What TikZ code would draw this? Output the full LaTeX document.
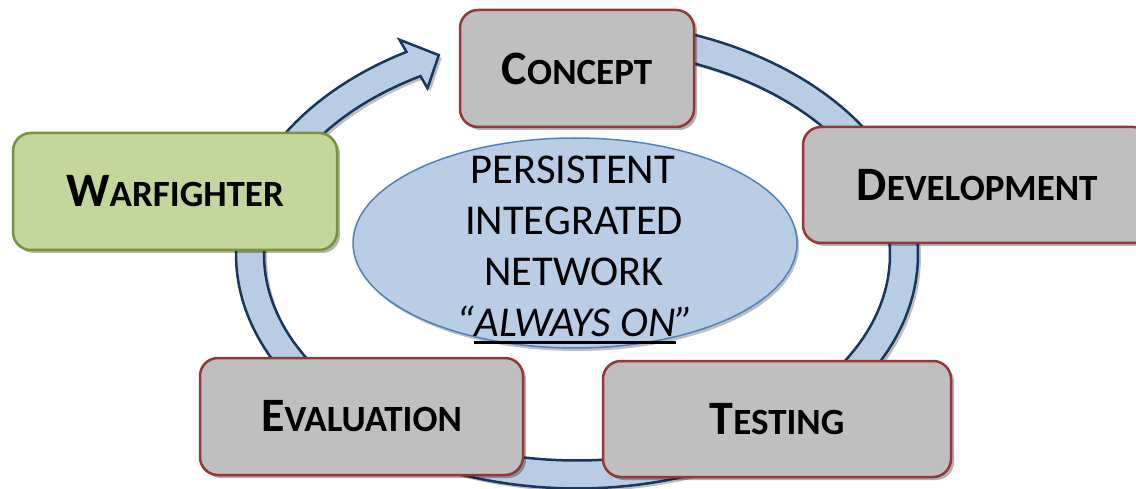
\documentclass[tikz,border=0pt]{standalone}
\usepackage{fontspec}
\setmainfont{Carlito}
\usetikzlibrary{shadows,shapes.geometric}
\definecolor{boxgray}{HTML}{BFBFBF}
\definecolor{boxred}{HTML}{953735}
\definecolor{wgreen}{HTML}{C3D69B}
\definecolor{wgreenline}{HTML}{77933C}
\definecolor{ringfill}{HTML}{B8CCE4}
\definecolor{ringline}{HTML}{17375E}
\definecolor{ellfill}{HTML}{B9CDE5}
\definecolor{ellline}{HTML}{4F81BD}
\newcommand\capword[2]{{\fontsize{48}{48}\selectfont #1}{\fontsize{37}{37}\selectfont #2}}
\newcommand\myul[1]{\setbox0\hbox{#1}\rlap{\rule[-7pt]{\wd0}{3pt}}\box0}
\begin{document}
\begin{tikzpicture}[x=1pt,y=-1pt,
  softshadow/.style={drop shadow={shadow xshift=3pt,shadow yshift=-3pt,opacity=0.3,fill=black}},
  stagebox/.style={draw=boxred,fill=boxgray,line width=2.5pt,rounded corners=18pt,
    softshadow,font=\bfseries,text=black,inner sep=0pt},
  greenbox/.style={stagebox,draw=wgreenline,fill=wgreen},
  ringstyle/.style={draw=ringline,fill=ringfill,line width=2.5pt,line join=miter,
    drop shadow={shadow xshift=3pt,shadow yshift=-3pt,opacity=0.25,fill=black}},
  netshape/.style={ellipse,draw=ellline,fill=ellfill,line width=1.5pt,inner sep=0pt,
    drop shadow={shadow xshift=2pt,shadow yshift=-3pt,opacity=0.25,fill=black}},
  nettext/.style={font=\fontsize{42.5}{51}\selectfont,text=black,inner sep=0pt,anchor=base}]
\useasboundingbox (0,0) rectangle (1136,489);
\begin{scope}
\clip (0,0) rectangle (1136,489);
% circular arrow
\path[ringstyle] plot[domain=-75:240,samples=160] ({577+341*cos(\x)},{254.5+234*sin(\x)})
  -- ({577+355*cos(240)},{254.5+248*sin(240)})
  -- ({577+327*cos(245)},{254.5+220*sin(245)})
  -- ({577+299*cos(240)},{254.5+192*sin(240)})
  -- plot[domain=240:-75,samples=160] ({577+313*cos(\x)},{254.5+206*sin(\x)})
  -- cycle;
% central ellipse
\node[netshape,minimum width=444pt,minimum height=210pt] (net) at (575,243) {};
\node[nettext] (l1) at (573,184) {PERSISTENT};
\node[nettext] (l2) at (574,235) {INTEGRATED};
\node[nettext] (l3) at (574,286) {NETWORK};
\node[nettext] (l4) at (575,337) {\itshape “\myul{ALWAYS ON}”};
% stage boxes
\node[stagebox,minimum width=234pt,minimum height=117pt] (concept) at (577,68.5) {\capword{C}{ONCEPT}};
\node[greenbox,minimum width=324pt,minimum height=117pt] (warfighter) at (175,191.5) {\capword{W}{ARFIGHTER}};
\node[stagebox,minimum width=348pt,minimum height=116pt] (development) at (977,185) {\capword{D}{EVELOPMENT}};
\node[stagebox,minimum width=323pt,minimum height=117pt] (evaluation) at (361.5,416.5) {\capword{E}{VALUATION}};
\node[stagebox,minimum width=348pt,minimum height=116pt] (testing) at (777,419) {\capword{T}{ESTING}};
\end{scope}
\end{tikzpicture}
\end{document}
